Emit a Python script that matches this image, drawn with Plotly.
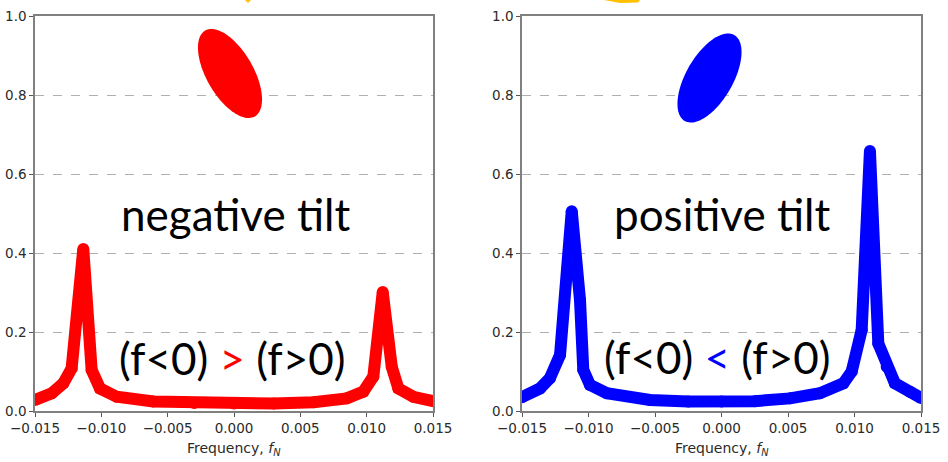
import numpy as np
import plotly.graph_objects as go

# ---------------- data ----------------
red_f = [-0.015, -0.01374, -0.01287, -0.01224, -0.01136, -0.01073, -0.0101, -0.00884, -0.00608,
         -0.0030, 0.0, 0.0030, 0.0060, 0.0085, 0.00975, 0.0105, 0.01121, 0.01189, 0.01239, 0.01352, 0.015]
red_v = [0.028, 0.045, 0.07, 0.108, 0.41, 0.104, 0.057, 0.036, 0.024,
         0.020, 0.019, 0.019, 0.022, 0.032, 0.049, 0.087, 0.301, 0.112, 0.057, 0.036, 0.025]

blue_f = [-0.015, -0.01365, -0.0129, -0.01214, -0.01126, -0.01064, -0.01039, -0.00989, -0.00863,
          -0.00538, -0.0025, 0.0, 0.0025, 0.00515, 0.0074, 0.00916, 0.00979, 0.01054, 0.01116,
          0.01179, 0.01242, 0.01304, 0.01417, 0.015]
blue_v = [0.035, 0.057, 0.083, 0.142, 0.506, 0.281, 0.104, 0.066, 0.045,
          0.028, 0.024, 0.024, 0.025, 0.032, 0.045, 0.07, 0.1, 0.205, 0.658,
          0.171, 0.112, 0.07, 0.049, 0.033]

x_tick_vals = [-0.015, -0.010, -0.005, 0.0, 0.005, 0.010, 0.015]
x_tick_text = ["\u22120.015", "\u22120.010", "\u22120.005", "0.000", "0.005", "0.010", "0.015"]
y_tick_vals = [0.0, 0.2, 0.4, 0.6, 0.8, 1.0]
y_tick_text = ["0.0", "0.2", "0.4", "0.6", "0.8", "1.0"]

left_title = "negative tilt"
right_title = "positive tilt"

# ---------------- layout geometry (pixels) ----------------
W, H = 948, 462
MT, MB = 16, 51
PLOT_H = H - MT - MB
L_X0, L_X1 = 35, 433
R_X0, R_X1 = 522, 921


def px(x):
    return x / W


def py(y):
    return (H - MB - y) / PLOT_H


fig = go.Figure()

RED = "#ff0000"
BLUE = "#0000ff"
LW = 12

fig.add_trace(go.Scatter(x=red_f, y=red_v, mode="lines+markers",
                         line=dict(color=RED, width=LW),
                         marker=dict(color=RED, size=LW, line=dict(width=0)),
                         xaxis="x", yaxis="y", hoverinfo="skip", showlegend=False))
fig.add_trace(go.Scatter(x=blue_f, y=blue_v, mode="lines+markers",
                         line=dict(color=BLUE, width=LW),
                         marker=dict(color=BLUE, size=LW, line=dict(width=0)),
                         xaxis="x2", yaxis="y2", hoverinfo="skip", showlegend=False))


def ellipse_path(cx, cy, a, b, theta_deg):
    # a: semi-major (along rotated vertical), b: semi-minor; pixels; convert to paper
    t = np.linspace(0, 2 * np.pi, 120)
    th = np.radians(theta_deg)
    ux, uy = np.sin(th), -np.cos(th)  # major axis direction in screen px (y down)
    vx, vy = np.cos(th), np.sin(th)
    xs = cx + a * np.cos(t) * ux + b * np.sin(t) * vx
    ys = cy + a * np.cos(t) * uy + b * np.sin(t) * vy
    pts = [f"{px(x):.5f},{py(y):.5f}" for x, y in zip(xs, ys)]
    return "M" + " L".join(pts) + " Z"


shapes = [
    dict(type="path", xref="paper", yref="paper", path=ellipse_path(230, 73.5, 49.6, 23.4, -30),
         fillcolor=RED, line=dict(width=0), layer="above"),
    dict(type="path", xref="paper", yref="paper", path=ellipse_path(709.5, 78, 49.6, 23.4, 30),
         fillcolor=BLUE, line=dict(width=0), layer="above"),
    # small yellow fragments at the very top
    dict(type="path", xref="paper", yref="paper",
         path=f"M{px(245)},{py(0)} L{px(251)},{py(0)} L{px(248)},{py(3)} Z",
         fillcolor="#ffc000", line=dict(width=0)),
    dict(type="path", xref="paper", yref="paper",
         path=f"M{px(604)},{py(0)} L{px(640)},{py(0)} L{px(638)},{py(2.5)} L{px(620)},{py(3)} Z",
         fillcolor="#ffc000", line=dict(width=0)),
]

TXT_FONT = "Lato, 'Open Sans', sans-serif"
BIG = 44
annotations = [
    dict(text=left_title, x=px(235), y=py(214), xref="paper", yref="paper", showarrow=False,
         font=dict(family=TXT_FONT, size=BIG, color="black"), xanchor="center", yanchor="middle"),
    dict(text=right_title, x=px(722), y=py(214), xref="paper", yref="paper", showarrow=False,
         font=dict(family=TXT_FONT, size=BIG, color="black"), xanchor="center", yanchor="middle"),
    dict(text="(f<0) <span style='color:#ff0000'>></span> (f>0)", x=px(232), y=py(358),
         xref="paper", yref="paper", showarrow=False,
         font=dict(family=TXT_FONT, size=BIG, color="black"), xanchor="center", yanchor="middle"),
    dict(text="(f<0) <span style='color:#0000ff'><</span> (f>0)", x=px(717), y=py(357),
         xref="paper", yref="paper", showarrow=False,
         font=dict(family=TXT_FONT, size=BIG, color="black"), xanchor="center", yanchor="middle"),
    dict(text="Frequency, <i>f</i><sub><i>N</i></sub>", x=px((L_X0 + L_X1) / 2), y=py(449),
         xref="paper", yref="paper", showarrow=False,
         font=dict(family="DejaVu Sans", size=14, color="#2a2a2a"), xanchor="center", yanchor="middle"),
    dict(text="Frequency, <i>f</i><sub><i>N</i></sub>", x=px((R_X0 + R_X1) / 2), y=py(449),
         xref="paper", yref="paper", showarrow=False,
         font=dict(family="DejaVu Sans", size=14, color="#2a2a2a"), xanchor="center", yanchor="middle"),
]

axis_common = dict(showline=True, mirror=True, linecolor="#808080", linewidth=1.5,
                   ticks="outside", ticklen=4, tickcolor="#555555", tickwidth=1,
                   tickfont=dict(family="DejaVu Sans", size=13.5, color="#2a2a2a"),
                   zeroline=False, automargin=False)

xa = dict(axis_common, range=[-0.015, 0.015], tickvals=x_tick_vals, ticktext=x_tick_text,
          showgrid=False)
ya = dict(axis_common, range=[0, 1], tickvals=y_tick_vals, ticktext=y_tick_text,
          showgrid=True, gridcolor="#b0b0b0", griddash="dash", gridwidth=1, domain=[0, 1])

fig.update_layout(
    width=W, height=H,
    margin=dict(l=0, r=0, t=MT, b=MB, pad=0),
    paper_bgcolor="white", plot_bgcolor="white",
    xaxis=dict(xa, domain=[px(L_X0), px(L_X1)], anchor="y"),
    yaxis=dict(ya, anchor="x"),
    xaxis2=dict(xa, domain=[px(R_X0), px(R_X1)], anchor="y2"),
    yaxis2=dict(ya, anchor="x2"),
    shapes=shapes,
    annotations=annotations,
    showlegend=False,
)

fig.write_html("out.html")
